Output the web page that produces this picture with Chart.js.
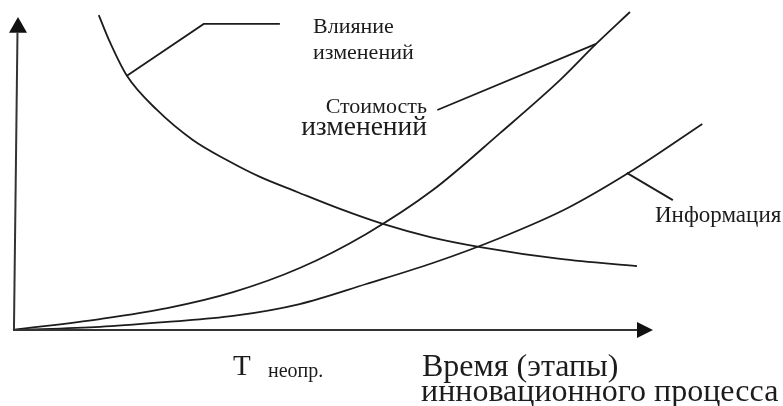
<!DOCTYPE html>
<html lang="ru">
<head>
<meta charset="utf-8">
<title>Влияние и стоимость изменений</title>
<script src="https://cdn.jsdelivr.net/npm/chart.js@4/dist/chart.umd.min.js"></script>
<style>
  html, body { margin: 0; padding: 0; background: #fff; }
  #wrap { width: 783px; height: 406px; position: relative; }
</style>
</head>
<body>
<div id="wrap"><canvas id="diagram"></canvas></div>
<script>
/* ================================
   Data (time 0..100, level 0..100)
   ================================ */
const influenceX = [13.4, 15.2, 17.8, 22.5, 28.1, 33.4, 38.6, 44.4, 51.1, 57.8, 65.2, 73.0, 85.5, 97.5];
const influenceY = [100.6, 91.7, 81.2, 70.3, 60.7, 54.3, 48.9, 44.1, 38.7, 33.9, 29.7, 26.5, 22.7, 20.4];

const costX = [0, 13.6, 24.1, 34.4, 44.8, 55.2, 65.6, 76.1, 85.5, 91.1, 96.4];
const costY = [0, 3.5, 7.0, 12.1, 19.8, 30.7, 44.7, 62.9, 79.9, 91.4, 101.6];

const infoX = [0, 13.6, 24.1, 34.4, 44.8, 55.2, 65.6, 76.1, 86.6, 96.9, 107.7];
const infoY = [0, 1.0, 2.6, 4.5, 8.3, 14.7, 21.4, 29.4, 38.9, 51.1, 65.8];

// leader lines from curves to their captions
const influenceLeader = [[17.8, 81.2], [29.8, 97.8], [41.7, 97.8]];
const costLeader = [[66.3, 70.3], [91.1, 91.4]];
const infoLeader = [[95.9, 50.2], [103.1, 41.5]];

const INK = "#1c1c1c";
const SERIF = "'Liberation Serif', 'DejaVu Serif', serif";

const toPoints = (xs, ys) => xs.map((x, i) => ({ x, y: ys[i] }));

/* ================================
   Axes with arrows, leaders, captions
   ================================ */
const schemePlugin = {
  id: "scheme",
  afterDatasetsDraw(chart) {
    const { ctx, scales } = chart;
    const px = v => scales.x.getPixelForValue(v);
    const py = v => scales.y.getPixelForValue(v);

    ctx.save();
    ctx.strokeStyle = "#333";
    ctx.fillStyle = "#111";
    ctx.lineWidth = 2;

    // vertical axis
    ctx.beginPath();
    ctx.moveTo(px(0.15), py(0));
    ctx.lineTo(px(0.7), py(95));
    ctx.stroke();
    ctx.beginPath();
    ctx.moveTo(px(0.78), py(100));
    ctx.lineTo(px(0.78) - 9, py(95));
    ctx.lineTo(px(0.78) + 9, py(95));
    ctx.closePath();
    ctx.fill();

    // horizontal axis
    ctx.beginPath();
    ctx.moveTo(px(0), py(0));
    ctx.lineTo(px(97.5), py(0));
    ctx.stroke();
    ctx.beginPath();
    ctx.moveTo(px(100), py(0));
    ctx.lineTo(px(97.5), py(0) - 8);
    ctx.lineTo(px(97.5), py(0) + 8);
    ctx.closePath();
    ctx.fill();

    // leaders
    ctx.strokeStyle = INK;
    ctx.lineWidth = 1.8;
    [influenceLeader, costLeader, infoLeader].forEach(line => {
      ctx.beginPath();
      line.forEach(([x, y], i) => i ? ctx.lineTo(px(x), py(y)) : ctx.moveTo(px(x), py(y)));
      ctx.stroke();
    });

    // captions
    ctx.fillStyle = INK;
    ctx.textBaseline = "alphabetic";
    const text = (s, x, y, size, align) => {
      ctx.font = size + "px " + SERIF;
      ctx.textAlign = align || "left";
      ctx.fillText(s, x, y);
    };
    text("Влияние", 313, 33, 22);
    text("изменений", 313, 59, 22);
    text("Стоимость", 427, 113, 22, "right");
    text("изменений", 427, 135, 27.5, "right");
    text("Информация", 655, 222, 23);
    text("T", 233, 375, 29);
    text("неопр.", 268, 377, 20);
    text("Время (этапы)", 422, 376, 32);
    text("инновационного процесса", 421, 401, 32);
    ctx.restore();
  }
};

/* ================================
   Chart.js
   ================================ */
const lineStyle = {
  showLine: true, borderColor: INK, borderWidth: 1.8, pointRadius: 0,
  cubicInterpolationMode: "monotone", clip: false, fill: false
};

new Chart(document.getElementById("diagram"), {
  type: "scatter",
  data: {
    datasets: [
      { label: "Влияние изменений", data: toPoints(influenceX, influenceY), ...lineStyle },
      { label: "Стоимость изменений", data: toPoints(costX, costY), ...lineStyle },
      { label: "Информация", data: toPoints(infoX, infoY), ...lineStyle }
    ]
  },
  options: {
    responsive: true,
    maintainAspectRatio: false,
    animation: false,
    layout: { padding: { left: 13, right: 130, top: 17, bottom: 76 } },
    plugins: { legend: { display: false }, tooltip: { enabled: false } },
    scales: {
      x: { type: "linear", min: 0, max: 100, display: false },
      y: { type: "linear", min: 0, max: 100, display: false }
    }
  },
  plugins: [schemePlugin]
});
</script>
</body>
</html>
